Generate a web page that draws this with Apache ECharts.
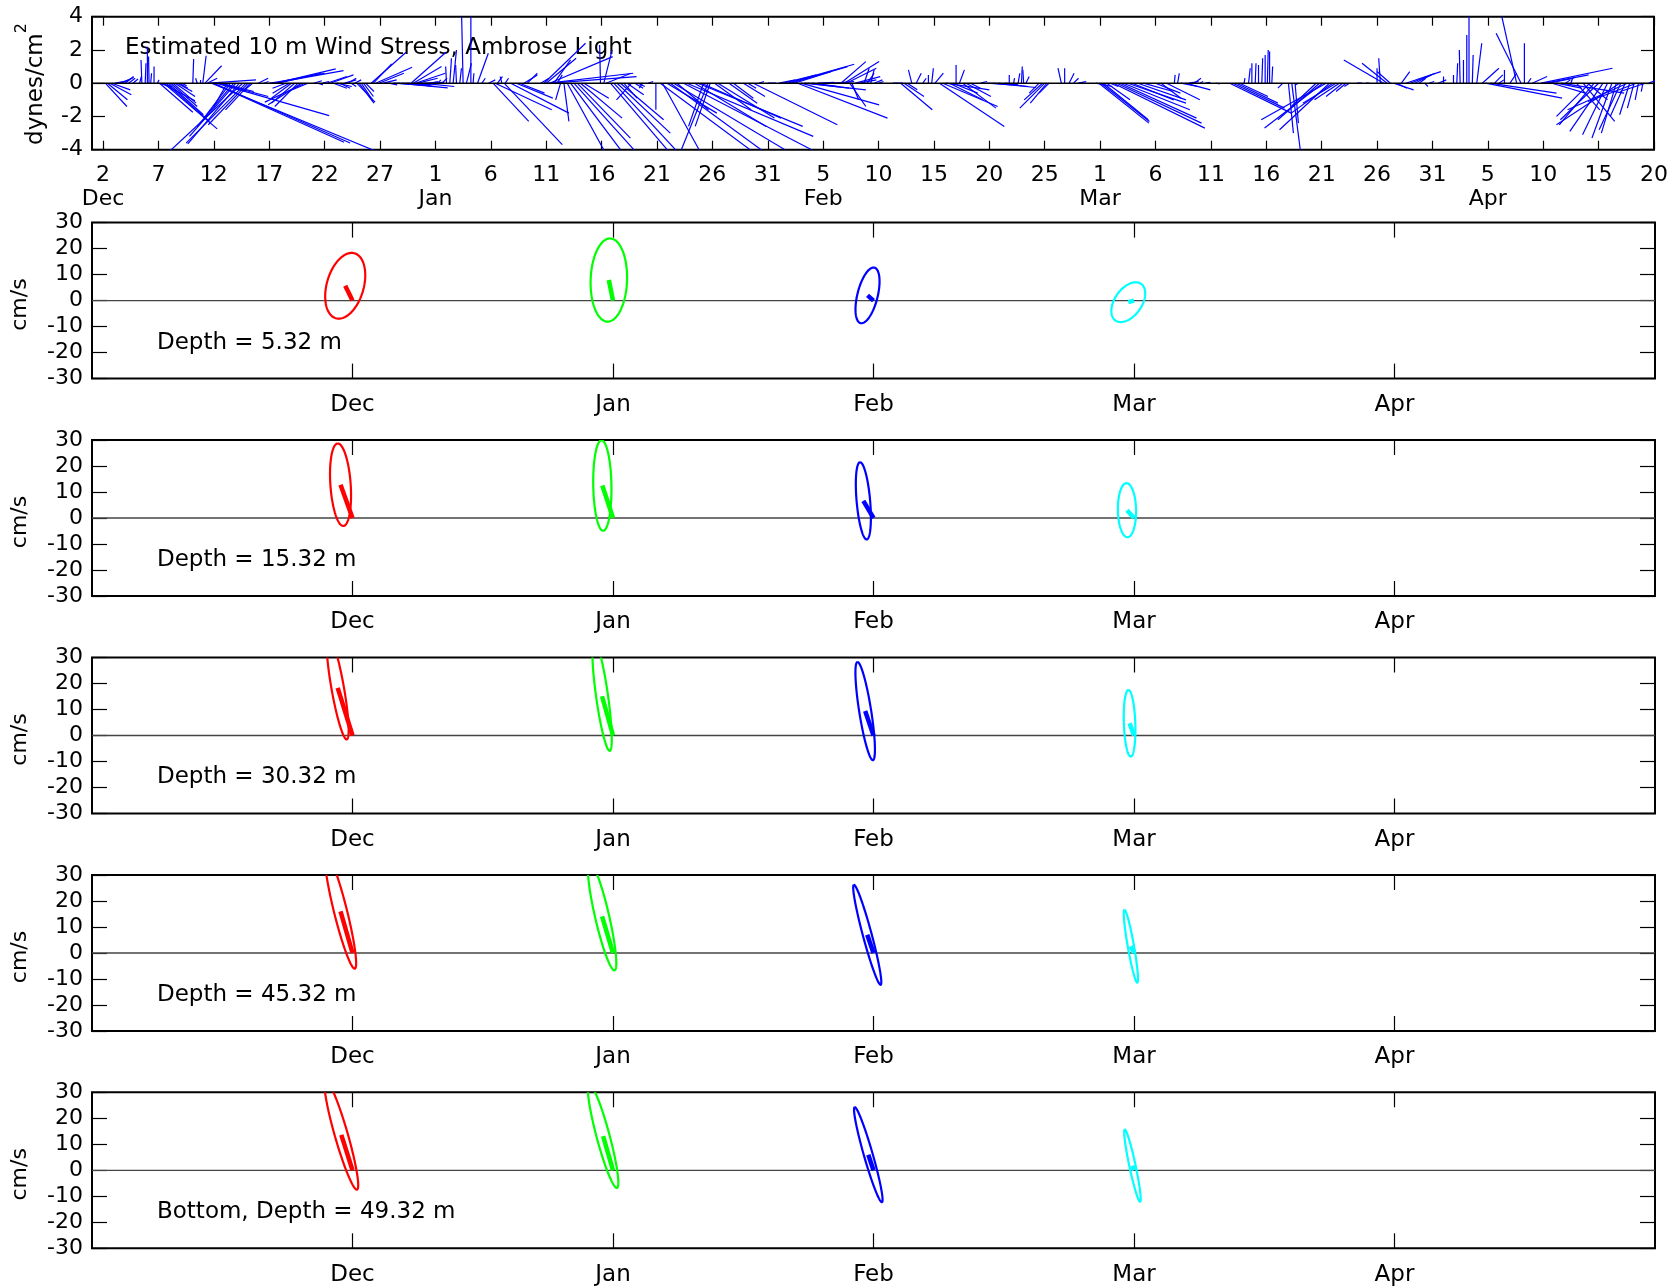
<!DOCTYPE html>
<html><head><meta charset="utf-8">
<script src="https://cdn.jsdelivr.net/npm/echarts@6/dist/echarts.min.js"></script>
<style>html,body{margin:0;padding:0;background:#fff}#c{width:1671px;height:1287px}</style>
</head><body><div id="c"></div>
<script>
// ---- top panel: wind stress sticks (day since Dec 1, u east, v north; dynes/cm^2)
const tickDays = [1,6,11,16,21,26,31,36,41,46,51,56,61,66,71,76,81,86,91,96,101,106,111,116,121,126,131,136,141];
const tickDayLabels = ['2','7','12','17','22','27','1','6','11','16','21','26','31','5','10','15','20','25','1','6','11','16','21','26','31','5','10','15','20'];
const monthLabelDays = [1,31,66,91,126];
const monthLabelNames = ['Dec','Jan','Feb','Mar','Apr'];
const windSticks = [
[1.2,1.3,-1.4],[1.4,1.2,-1.0],[1.6,1.3,-0.7],[1.8,1.1,-0.4],[2.1,0.5,0.1],[2.4,0.6,0.2],[2.7,0.7,0.35],[3.0,0.5,0.4],[3.3,0.4,0.3],[3.7,0.3,0.25],
[4.3,0.1,0.4],[4.5,-0.05,1.4],[4.8,0.05,1.2],[5.0,0.0,2.2],[5.15,-0.03,1.6],[5.3,0.05,0.6],[5.6,0.0,1.0],[5.9,0.1,0.2],
[6.0,0.8,-0.2],[6.1,2.0,-1.75],[6.3,2.0,-1.05],[6.5,3.2,-2.75],[6.7,2.6,-2.3],[6.9,2.1,-1.9],[7.1,1.6,-1.4],[7.3,1.4,-1.2],[7.5,1.2,-0.8],[7.7,0.9,-0.5],[7.9,0.5,-0.3],[8.1,0.3,-0.15],
[9.1,0.05,1.45],[9.5,-0.1,0.3],[9.8,0.0,0.2],[10.0,0.2,1.65],[10.2,1.0,1.05],[10.4,0.6,0.3],
[10.6,2.8,0.2],[10.8,9.9,-4.1],[10.9,7.9,-3.55],[11.0,8.2,-3.6],[11.2,6.8,-1.95],[11.4,3.0,-0.8],[11.6,2.0,-0.5],
[12.2,-0.8,-1.4],[12.5,-1.6,-2.1],[12.8,-2.2,-2.6],[13.0,-2.8,-3.2],[13.3,-3.1,-3.65],[13.6,-4.4,-4.1],[13.9,-3.6,-3.6],[14.1,-2.4,-2.5],[14.3,-1.5,-1.6],[14.5,-0.6,-0.5],
[15.0,0.6,0.3],[15.5,0.3,0.1],[16.0,0.4,0.05],[16.2,3.2,0.6],[16.4,4.2,0.76],[16.6,3.6,0.86],[16.8,2.6,0.6],
[17.5,-0.8,-0.3],[17.8,-1.0,-0.6],[18.0,-1.2,-0.9],[18.3,-1.4,-1.2],[18.6,-1.4,-1.4],[18.9,-2.0,-1.3],[19.2,-2.4,-1.14],[19.5,-1.2,-0.5],
[20.0,0.5,0.15],[20.4,0.3,-0.1],[20.8,0.4,0.1],[21.2,1.2,0.4],[21.5,1.4,0.5],[21.8,0.8,-0.3],[22.1,0.9,-0.2],[22.4,0.6,-0.3],[22.8,0.7,0.2],[23.1,0.5,0.3],[23.4,0.3,-0.2],
[23.7,0.4,0.2],[23.9,1.1,-1.14],[24.1,0.9,-1.2],[24.3,0.7,-1.04],[24.5,0.6,-0.8],[24.7,0.5,-0.5],
[25.2,2.1,1.86],[25.4,1.1,1.16],[25.6,2.2,0.96],[25.9,1.5,0.6],[26.3,0.8,0.2],[26.8,0.5,-0.1],
[27.2,2.2,-0.15],[27.6,3.0,-0.28],[28.0,2.0,-0.2],[28.4,1.5,-0.1],[28.8,2.1,1.86],[29.0,1.7,1.0],[29.2,1.8,0.6],[29.4,1.2,0.3],[29.7,2.0,-0.2],[30.0,1.2,0.05],[30.5,0.5,0.1],
[31.2,0.2,0.2],[31.6,0.3,0.3],[32.0,-0.05,1.0],[32.3,0.1,1.5],[32.6,0.2,2.0],[32.9,-0.05,1.1],[33.2,0.1,0.9],[33.5,-0.1,4.5],[33.8,0.3,1.2],[34.2,0.0,4.5],[34.4,0.05,0.6],[34.8,0.65,1.8],[35.2,0.2,0.3],
[35.8,0.4,0.2],[36.2,2.15,-2.3],[36.4,3.4,-1.6],[36.6,0.3,0.4],[37.0,-0.1,0.4],[37.2,3.5,-3.7],[37.3,0.2,0.3],[37.8,3.5,-1.8],[38.3,2.2,-0.9],[38.6,1.5,-0.6],[39.0,0.8,0.5],[39.3,0.6,0.6],
[40.5,0.5,0.3],[40.8,2.5,2.4],[41.0,1.8,1.5],[41.2,5.1,0.6],[41.3,3.8,1.6],[41.5,5.1,0.4],[41.7,1.0,1.4],[42.0,0.3,0.5],[42.3,-0.3,-1.0],[42.6,0.3,-2.3],
[42.9,2.3,-4.2],[43.2,3.0,-4.0],[43.5,3.7,-4.1],[43.8,3.2,-3.3],[44.1,2.5,-2.1],[44.4,1.5,-0.9],
[45.9,-0.05,2.3],[46.2,0.5,2.0],[46.4,1.5,0.6],[46.8,3.5,-4.1],[47.1,3.9,-4.2],[47.4,3.2,-3.0],[47.7,2.6,-2.2],[48.0,0.8,-0.9],[48.3,1.0,-0.7],[48.7,-0.9,-1.0],[49.0,0.5,-0.3],[49.3,0.4,-0.2],[49.7,-0.2,-0.3],[50.2,0.3,0.1],[50.9,0.0,-1.6],
[51.3,5.4,-4.0],[51.5,2.2,-4.0],[51.9,3.0,-1.8],[52.2,5.6,-4.1],[52.5,6.7,-4.0],[52.8,1.9,-1.6],[53.4,7.7,-4.0],[53.7,7.6,-3.2],[54.4,4.3,-2.6],[54.7,6.3,-2.6],[55.0,4.8,-2.1],[55.2,-0.9,-2.6],
[55.6,-1.6,-4.0],[55.8,-0.9,-2.6],[56.2,2.2,-1.6],[56.5,3.4,-2.1],[57.5,1.7,-1.2],[57.9,1.2,-0.9],[58.8,1.3,-0.8],[59.2,0.5,-0.3],[59.7,5.05,-2.5],[60.2,0.3,0.1],
[61.0,0.5,0.0],[62.0,1.0,0.2],[62.4,2.0,0.5],[62.8,4.0,1.14],[63.1,3.4,1.0],[63.4,2.2,0.7],[63.7,5.4,-2.1],[64.0,4.7,-1.3],[64.3,3.7,-0.4],[64.6,2.5,-0.3],[65.0,1.6,-0.2],[65.5,1.0,0.05],
[66.2,0.8,0.0],[67.0,1.2,0.1],[67.6,1.5,1.3],[67.9,2.1,1.3],[68.1,1.8,0.9],[68.4,0.97,-1.4],[68.6,0.4,-1.0],[68.9,1.5,0.4],[69.3,1.0,0.2],[69.7,0.3,0.9],[70.0,0.4,0.6],[70.3,0.2,0.8],[70.6,0.5,0.2],[71.0,0.3,0.1],
[72.3,0.6,0.0],[73.0,1.9,-1.6],[73.3,1.2,-0.8],[73.6,0.6,-0.4],[74.0,-0.2,0.8],[74.4,0.3,0.6],[75.0,0.2,0.3],[75.5,0.0,0.5],[75.8,0.1,0.9],[76.1,0.5,0.6],
[76.5,3.9,-2.6],[76.8,3.3,-1.4],[77.1,2.6,-0.4],[77.4,2.0,-1.0],[77.7,1.5,-0.6],[78.0,0.0,1.1],[78.3,0.3,0.8],[78.6,2.0,-1.5],[78.9,1.5,-0.8],[79.3,0.6,-0.3],
[80.2,0.4,0.1],[80.8,1.5,-0.1],[81.3,2.6,-0.26],[81.8,1.8,-0.2],[82.4,0.8,-0.1],[82.8,0.0,0.5],[83.2,0.05,0.3],[83.6,0.1,0.6],[83.9,0.05,1.0],[84.1,-0.05,0.8],[84.3,0.2,0.4],
[85.5,-0.6,-0.6],[85.8,-1.1,-1.0],[86.0,-1.5,-1.5],[86.2,-1.0,-1.2],[86.4,-0.6,-0.6],[87.5,-0.2,0.9],[87.8,0.0,0.9],[88.2,0.3,0.6],[88.6,0.3,0.3],[89.0,0.5,0.1],
[90.6,1.0,-0.2],[90.9,3.0,-2.4],[91.1,2.9,-2.3],[91.3,2.7,-2.2],[91.6,1.4,-1.0],[91.9,0.5,-0.2],
[92.2,5.5,-2.7],[92.5,5.1,-2.4],[92.8,4.6,-2.1],[93.1,4.0,-1.6],[93.5,3.5,-1.2],[93.9,2.5,-1.0],[94.4,2.9,-1.0],[94.9,1.8,-0.5],
[96.0,1.5,-0.6],[96.5,1.2,-0.9],[97.0,2.0,-1.0],[97.7,0.05,0.5],[98.0,0.1,0.6],[98.3,1.0,-0.2],[98.7,1.5,-0.4],[99.0,0.6,0.1],[99.5,0.4,0.3],[100.0,0.2,0.1],[100.5,0.3,0.05],
[101.5,0.2,-0.05],[102.7,3.7,-1.8],[103.0,3.1,-1.5],[103.3,2.5,-1.2],[103.6,1.7,-0.8],[104.0,0.05,0.3],[104.4,0.1,0.9],[104.7,0.0,1.2],[105.0,0.05,1.2],[105.3,0.0,1.1],[105.6,0.05,1.5],[105.9,0.0,1.7],[106.1,0.05,2.0],[106.3,0.0,1.9],[106.5,0.05,1.0],
[107.5,-0.3,-0.3],[108.0,0.3,-3.0],[108.3,0.55,-4.3],[108.6,0.2,-2.4],[108.9,-0.2,-0.1],
[110.5,-1.5,-1.4],[110.8,-2.5,-2.2],[111.1,-3.5,-2.7],[111.4,-3.9,-2.2],[111.7,-3.0,-2.8],[112.0,-2.5,-1.8],[112.3,-2.0,-1.2],[112.6,-1.5,-1.0],[112.9,-1.0,-0.8],[113.2,-0.6,-0.5],[113.5,-0.3,-0.2],
[114.2,0.3,0.0],[115.0,0.2,0.0],
[116.0,0.0,0.9],[116.3,-0.1,1.5],[116.6,-2.4,1.4],[116.9,-1.5,1.2],[117.2,-0.8,0.7],[117.5,1.2,-0.4],[117.8,0.6,-0.3],[118.2,0.5,0.7],[118.6,2.1,0.7],[119.0,1.5,0.6],[119.4,1.0,0.5],[119.8,0.4,0.3],[120.3,0.2,-0.2],[120.7,0.3,0.1],
[121.5,0.5,0.2],[122.0,0.0,0.4],[122.9,0.0,0.5],[123.2,0.05,1.2],[123.5,-0.05,2.0],[123.8,0.0,1.4],[124.1,0.0,2.9],[124.3,0.0,4.5],[124.6,0.05,1.7],[125.0,0.3,2.4],[125.5,1.0,0.9],
[125.8,4.6,-0.9],[126.2,4.0,-0.6],[126.6,0.5,0.5],[127.0,0.3,0.2],[127.5,0.0,0.8],[128.0,0.4,0.6],[128.6,-1.0,4.5],[129.0,-1.5,3.0],[129.3,0.0,2.4],[129.6,0.2,0.3],[130.0,0.9,0.4],
[130.8,4.3,0.9],[131.2,2.6,0.5],[131.5,1.5,0.3],[131.8,2.0,-0.6],[132.2,1.5,-0.3],[132.6,3.8,-0.6],[133.0,0.3,0.2],[133.5,0.1,0.3],
[134.0,1.4,-1.6],[134.6,1.9,-2.3],[135.0,1.2,-1.0],[135.2,-2.0,-2.0],[135.6,-2.1,-2.5],[136.0,-2.3,-2.2],[136.4,-2.0,-2.9],[136.8,-1.5,-3.1],[137.2,-1.2,-3.3],[137.6,-0.9,-3.0],
[137.9,-3.8,-2.5],[138.0,-1.3,-2.8],[138.4,-0.9,-2.0],[138.6,-3.6,-1.6],[138.8,-0.6,-1.9],[139.2,-0.4,-1.5],[139.4,-2.9,-1.1],[139.6,-0.2,-1.0],[140.0,-0.1,-0.5],[140.2,-1.5,-0.5],[140.5,0.5,0.2]
];

// ---- ellipse panels (mean current u,v cm/s; ellipse semi-major, semi-minor cm/s; orientation deg clockwise from north)
const ellipseMonthNames = ['Dec','Jan','Feb','Mar','Apr'];
const ellipseMonthPos = [1,2,3,4];
const ellipseColors = ['#ff0000','#00ff00','#0000ff','#00ffff'];
const depthLabels = ['Depth = 5.32 m','Depth = 15.32 m','Depth = 30.32 m','Depth = 45.32 m','Bottom, Depth = 49.32 m'];
const meanU = [[-2.8,-1.6,-2.3,-2.2],[-4.6,-4.1,-3.9,-2.7],[-5.7,-4.2,-3.2,-1.7],[-4.6,-4.2,-2.4,-1.2],[-4.3,-3.8,-2.0,-0.6]];
const meanV = [[5.7,7.9,2.0,-0.6],[12.8,12.5,6.6,3.0],[18.3,15.1,9.4,4.7],[16.0,14.1,7.0,2.6],[13.6,13.1,6.0,1.8]];
const majorAxis = [[13.0,16.0,11.0,8.6],[15.9,17.4,14.9,10.4],[20.1,21.2,19.1,12.8],[22.7,21.3,19.9,14.2],[21.9,20.6,19.0,14.2]];
const minorAxis = [[7.1,7.0,3.9,5.2],[3.9,3.5,2.6,3.5],[2.4,2.3,2.3,2.2],[2.5,2.7,1.7,1.2],[2.5,2.5,1.7,1.2]];
const orientation = [[16,2,14,35],[-4,-1,-5,-1],[-10,-8,-9,-2],[-14,-13,-15,-10],[-16,-15,-16,-12]];

const FONT = '"DejaVu Sans", sans-serif';
const LEFT = 92, WIDTH = 1563;
const panelTops = [222.6, 440, 657.5, 875, 1092.3];
const PH = 156;

const grids = [{left:LEFT, top:16.7, width:WIDTH, height:133, show:true, borderColor:'#000', borderWidth:2, backgroundColor:'transparent'}];
panelTops.forEach(t => grids.push({left:LEFT, top:t, width:WIDTH, height:PH, show:true, borderColor:'#000', borderWidth:2, backgroundColor:'transparent'}));

const noLine = {show:false, onZero:false};
const xAxes = [], yAxes = [], series = [];
// top panel axes
xAxes.push({type:'value', gridIndex:0, min:0, max:141, position:'bottom',
  axisLine:noLine, splitLine:{show:false},
  axisTick:{inside:true, length:9, customValues:tickDays, lineStyle:{color:'#000', width:1.2}},
  axisLabel:{customValues:tickDays, margin:14, color:'#000', fontFamily:FONT, fontSize:22, lineHeight:24,
    formatter: v => { const i = tickDays.indexOf(v); let s = i>=0 ? tickDayLabels[i] : ''; const j = monthLabelDays.indexOf(v); if (j>=0) s += '\n' + monthLabelNames[j]; return s; }}});
xAxes.push({type:'value', gridIndex:0, min:0, max:141, position:'top',
  axisLine:noLine, splitLine:{show:false}, axisLabel:{show:false},
  axisTick:{inside:true, length:9, customValues:tickDays, lineStyle:{color:'#000', width:1.2}}});
yAxes.push({type:'value', gridIndex:0, min:-4, max:4, interval:2, position:'left',
  axisLine:noLine, splitLine:{show:false},
  axisTick:{inside:true, length:13, lineStyle:{color:'#000', width:1.2}},
  axisLabel:{margin:9, color:'#000', fontFamily:FONT, fontSize:22}});
yAxes.push({type:'value', gridIndex:0, min:-4, max:4, interval:2, position:'right',
  axisLine:noLine, splitLine:{show:false}, axisLabel:{show:false},
  axisTick:{inside:true, length:13, lineStyle:{color:'#000', width:1.2}}});

series.push({type:'line', xAxisIndex:0, yAxisIndex:0, data:[[0,0],[141,0]], symbol:'none', silent:true,
  lineStyle:{color:'#000', width:1.6}, z:3});
series.push({type:'custom', xAxisIndex:0, yAxisIndex:0, clip:true, data:windSticks, z:2,
  renderItem:(params, api) => {
    const t = api.value(0), u = api.value(1), v = api.value(2);
    const p0 = api.coord([t, 0]);
    const k = api.size([0, 1])[1];
    return {type:'line', shape:{x1:p0[0], y1:p0[1], x2:p0[0] + u*k, y2:p0[1] - v*k},
      style:{stroke:'#0000ff', lineWidth:1.2}};
  }});

panelTops.forEach((t, p) => {
  const g = p + 1;
  xAxes.push({type:'value', gridIndex:g, min:0, max:6, position:'bottom',
    axisLine:noLine, splitLine:{show:false},
    axisTick:{inside:true, length:15, customValues:[1,2,3,4,5], lineStyle:{color:'#000', width:1.2}},
    axisLabel:{customValues:[1,2,3,4,5], margin:15, color:'#000', fontFamily:FONT, fontSize:23,
      formatter: v => ellipseMonthNames[Math.round(v) - 1] || ''}});
  xAxes.push({type:'value', gridIndex:g, min:0, max:6, position:'top',
    axisLine:noLine, splitLine:{show:false}, axisLabel:{show:false},
    axisTick:{inside:true, length:15, customValues:[1,2,3,4,5], lineStyle:{color:'#000', width:1.2}}});
  yAxes.push({type:'value', gridIndex:g, min:-30, max:30, interval:10, position:'left',
    axisLine:noLine, splitLine:{show:false},
    axisTick:{inside:true, length:15, lineStyle:{color:'#000', width:1.2}},
    axisLabel:{margin:9, color:'#000', fontFamily:FONT, fontSize:22}});
  yAxes.push({type:'value', gridIndex:g, min:-30, max:30, interval:10, position:'right',
    axisLine:noLine, splitLine:{show:false}, axisLabel:{show:false},
    axisTick:{inside:true, length:15, lineStyle:{color:'#000', width:1.2}}});
  const xi = 2*g, yi = 2*g;
  series.push({type:'line', xAxisIndex:xi, yAxisIndex:yi, data:[[0,0],[6,0]], symbol:'none', silent:true,
    lineStyle:{color:'#444', width:1.3}, z:1});
  const data = ellipseMonthPos.map((m, i) => [m, meanU[p][i], meanV[p][i], majorAxis[p][i], minorAxis[p][i], orientation[p][i], i]);
  series.push({type:'custom', xAxisIndex:xi, yAxisIndex:yi, clip:true, data:data, z:2,
    renderItem:(params, api) => {
      const m = api.value(0), u = api.value(1), v = api.value(2), a = api.value(3), b = api.value(4), ph = api.value(5) * Math.PI / 180;
      const col = ellipseColors[api.value(6)];
      const c = api.coord([m, 0]);
      const k = api.size([0, 1])[1];
      const cx = c[0] + u*k, cy = c[1] - v*k;
      const s = Math.sin(ph), co = Math.cos(ph);
      const pts = [];
      for (let i = 0; i <= 120; i++) {
        const th = i / 120 * 2 * Math.PI;
        const e = a*Math.cos(th)*s + b*Math.sin(th)*co;
        const n = a*Math.cos(th)*co - b*Math.sin(th)*s;
        pts.push([cx + e*k, cy - n*k]);
      }
      return {type:'group', children:[
        {type:'polyline', shape:{points:pts}, style:{stroke:col, fill:null, lineWidth:2.2}},
        {type:'line', shape:{x1:c[0], y1:c[1], x2:cx, y2:cy}, style:{stroke:col, lineWidth:4.5}}
      ]};
    }});
});

const graphics = [
  {type:'text', x:125, y:48.5, style:{text:'Estimated 10 m Wind Stress, Ambrose Light', fill:'#000', font:'23px ' + FONT, verticalAlign:'middle'}},
  {type:'text', x:31, y:84, rotation:Math.PI/2, style:{text:'{a|dynes/cm}{b|2}', fill:'#000', align:'center', verticalAlign:'middle',
    rich:{a:{fontFamily:'DejaVu Sans', fontSize:23, lineHeight:34, verticalAlign:'bottom', fill:'#000'},
          b:{fontFamily:'DejaVu Sans', fontSize:16, lineHeight:34, verticalAlign:'top', fill:'#000'}}}}
];
panelTops.forEach((t, p) => {
  graphics.push({type:'text', x:157, y:t + 120, style:{text:depthLabels[p], fill:'#000', font:'23px ' + FONT, verticalAlign:'middle'}});
  graphics.push({type:'text', x:20, y:t + PH/2 + 4, rotation:Math.PI/2, style:{text:'cm/s', fill:'#000', font:'22px ' + FONT, align:'center', verticalAlign:'middle'}});
});

const chart = echarts.init(document.getElementById('c'), null, {renderer:'canvas'});
chart.setOption({
  animation:false, backgroundColor:'#fff',
  textStyle:{fontFamily:FONT},
  grid:grids, xAxis:xAxes, yAxis:yAxes, series:series, graphic:graphics
});
</script></body></html>
